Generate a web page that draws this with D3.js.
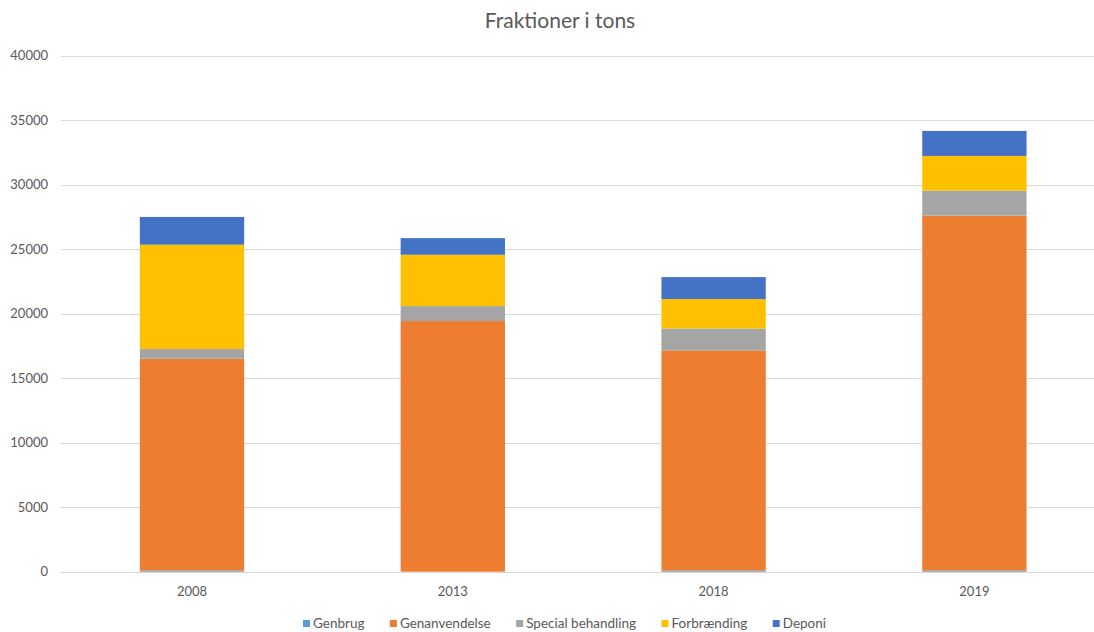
<!DOCTYPE html>
<html>
<head>
<meta charset="utf-8">
<script src="https://cdn.jsdelivr.net/npm/d3@7/dist/d3.min.js"></script>
<style>
html,body{margin:0;padding:0;background:#fff;}
svg{display:block;font-family:Lato,"Open Sans",sans-serif;}
</style>
</head>
<body>
<svg id="chart" width="1094" height="632"></svg>
<script>
const categories = ["2008", "2013", "2018", "2019"];
const seriesNames = ["Genbrug", "Genanvendelse", "Special behandling", "Forbrænding", "Deponi"];
const genbrug = [80, 0, 80, 80];
const genanvendelse = [16430, 19430, 17075, 27520];
const specialBehandling = [750, 1160, 1700, 1940];
const forbraending = [8090, 3980, 2280, 2690];
const deponi = [2150, 1290, 1700, 1940];
const yTicks = [0, 5000, 10000, 15000, 20000, 25000, 30000, 35000, 40000];
const colors = ["#5B9BD5", "#ED7D31", "#A5A5A5", "#FFC000", "#4472C4"];

const seriesValues = [genbrug, genanvendelse, specialBehandling, forbraending, deponi];
const rows = categories.map((c, i) => {
  const r = {cat: c};
  seriesNames.forEach((s, j) => r[s] = seriesValues[j][i]);
  return r;
});

const svg = d3.select("#chart");
const x = d3.scaleBand().domain(categories).range([61.6, 1104.8]).paddingInner(0.6).paddingOuter(0.3);
const y = d3.scaleLinear().domain([0, 40000]).range([571.7, 55.7]);

// title
svg.append("text").attr("x", 560).attr("y", 28).attr("text-anchor", "middle")
  .attr("font-size", 21).attr("fill", "#595959").text("Fraktioner i tons");

// gridlines
svg.append("g").selectAll("line").data(yTicks).join("line")
  .attr("x1", 61).attr("x2", 1104)
  .attr("y1", d => Math.round(y(d)) + 0.5).attr("y2", d => Math.round(y(d)) + 0.5)
  .attr("stroke", "#d9d9d9").attr("stroke-width", 1);

// y labels
svg.append("g").selectAll("text").data(yTicks).join("text")
  .attr("x", 48).attr("y", d => y(d)).attr("dy", "0.35em")
  .attr("text-anchor", "end").attr("font-size", 13).attr("fill", "#595959")
  .text(d => d);

// bars
const stack = d3.stack().keys(seriesNames);
const stacked = stack(rows);
svg.append("g").selectAll("g").data(stacked).join("g")
  .attr("fill", (d, i) => colors[i])
  .selectAll("rect").data(d => d).join("rect")
  .attr("x", d => x(d.data.cat))
  .attr("width", x.bandwidth())
  .attr("y", d => y(d[1]))
  .attr("height", d => Math.max(0, y(d[0]) - y(d[1])));

// x axis line
svg.append("line").attr("x1", 61).attr("x2", 1104)
  .attr("y1", Math.round(y(0)) + 0.5).attr("y2", Math.round(y(0)) + 0.5)
  .attr("stroke", "#d9d9d9");

// x labels
svg.append("g").selectAll("text").data(categories).join("text")
  .attr("x", d => x(d) + x.bandwidth() / 2).attr("y", 596)
  .attr("text-anchor", "middle").attr("font-size", 13).attr("fill", "#595959")
  .text(d => d);

// legend
const leg = svg.append("g");
const items = leg.selectAll("g").data(seriesNames).join("g");
items.append("rect").attr("width", 7).attr("height", 7).attr("y", -8).attr("fill", (d, i) => colors[i]);
items.append("text").attr("x", 10).attr("y", 0).attr("font-size", 13.5).attr("fill", "#595959").text(d => d);
const widths = [];
items.each(function () {
  widths.push(10 + d3.select(this).select("text").node().getComputedTextLength());
});
const legStart = 303, legEnd = 826;
const gap = (legEnd - legStart - widths.reduce((a, b) => a + b, 0)) / (widths.length - 1);
let start = legStart;
items.attr("transform", (d, i) => {
  const t = `translate(${start},628)`;
  start += widths[i] + gap;
  return t;
});
</script>
</body>
</html>
